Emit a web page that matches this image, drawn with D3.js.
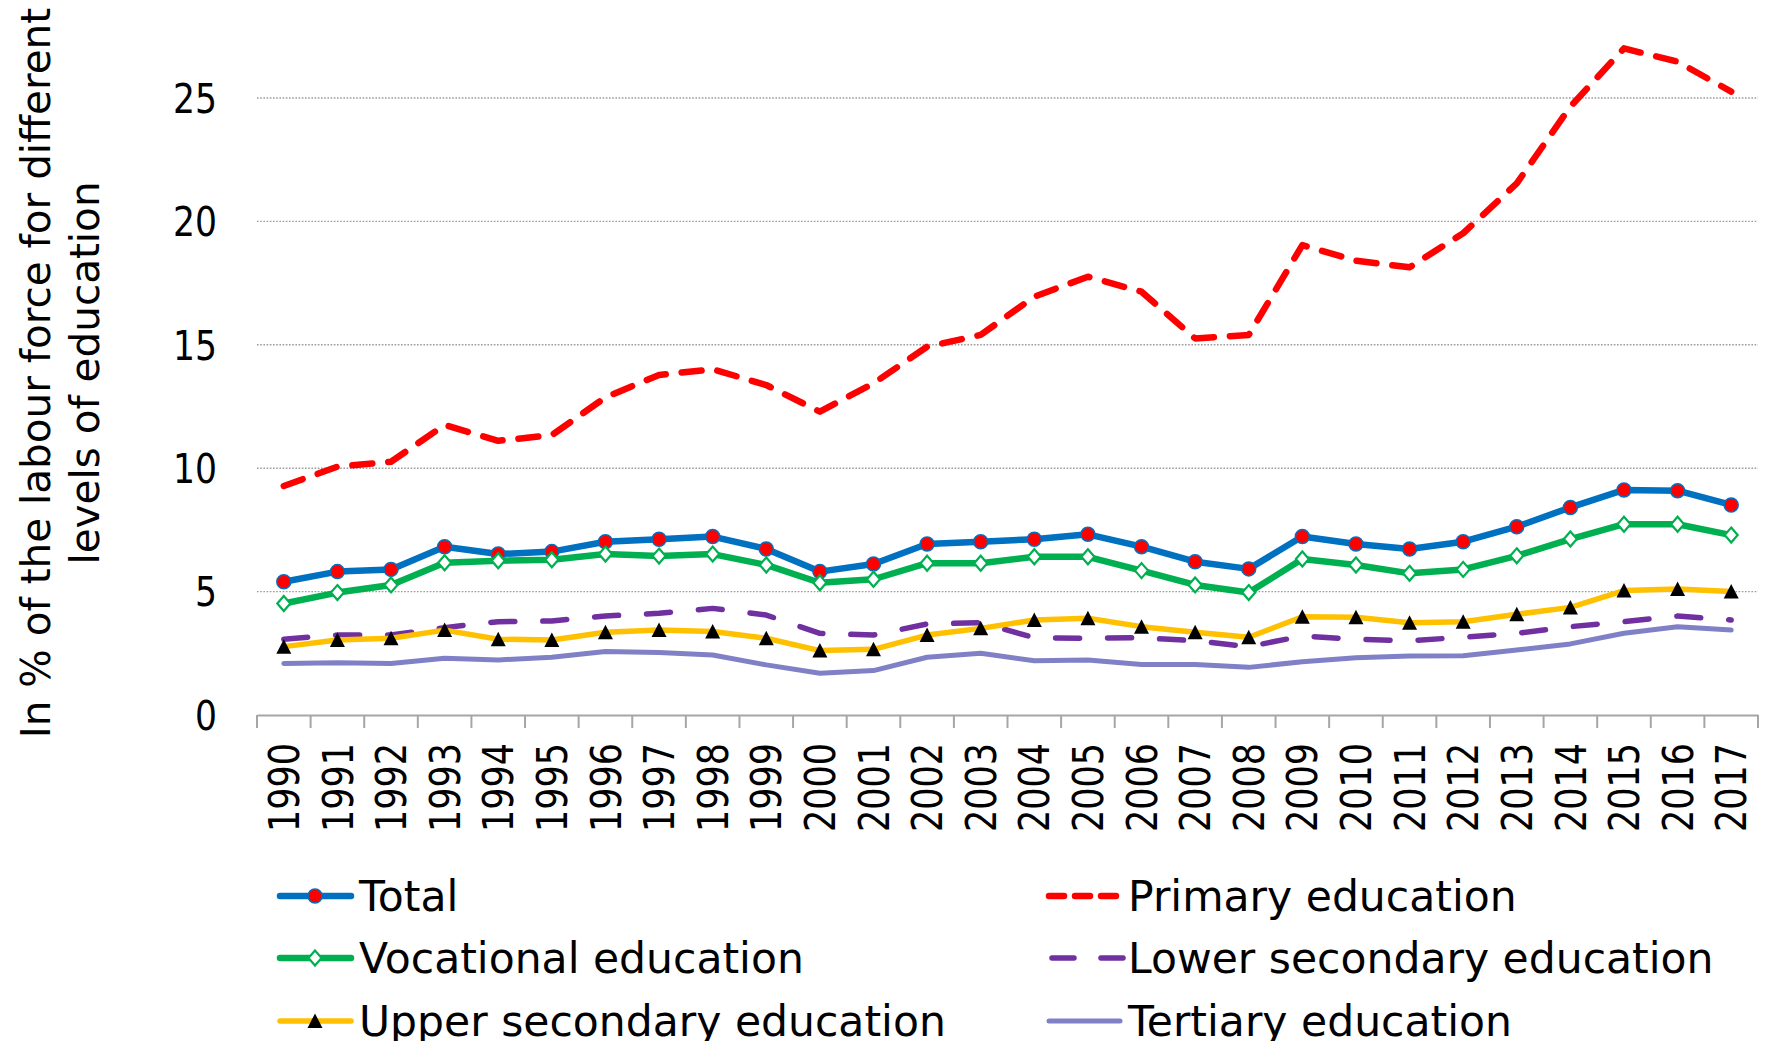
<!DOCTYPE html>
<html>
<head>
<meta charset="utf-8">
<script src="https://cdn.jsdelivr.net/npm/d3@7"></script>
<style>
    html, body { margin: 0; padding: 0; background: #fff; }
    svg { display: block; font-family: "DejaVu Sans", sans-serif; }
</style>
</head>
<body>
<svg id="chart" width="1765" height="1041"></svg>
<script>
var years = ["1990", "1991", "1992", "1993", "1994", "1995", "1996", "1997", "1998", "1999",
    "2000", "2001", "2002", "2003", "2004", "2005", "2006", "2007", "2008", "2009",
    "2010", "2011", "2012", "2013", "2014", "2015", "2016", "2017"];

var total = [5.40, 5.81, 5.90, 6.82, 6.52, 6.62, 7.02, 7.12, 7.23, 6.73,
    5.81, 6.12, 6.93, 7.02, 7.12, 7.32, 6.82, 6.21, 5.92, 7.23,
    6.93, 6.73, 7.02, 7.63, 8.41, 9.12, 9.09, 8.51];
var primary = [9.28, 10.06, 10.26, 11.75, 11.11, 11.34, 12.87, 13.78, 14.01, 13.37,
    12.29, 13.44, 14.92, 15.40, 16.95, 17.76, 17.15, 15.26, 15.40, 19.04,
    18.41, 18.14, 19.52, 21.54, 24.65, 27.01, 26.47, 25.26];
var vocational = [4.52, 4.96, 5.27, 6.17, 6.25, 6.29, 6.52, 6.44, 6.52, 6.08,
    5.36, 5.50, 6.15, 6.15, 6.41, 6.41, 5.85, 5.27, 4.96, 6.32,
    6.08, 5.74, 5.90, 6.45, 7.13, 7.73, 7.73, 7.29];
var lowerSecondary = [3.07, 3.24, 3.24, 3.54, 3.78, 3.81, 4.01, 4.12, 4.32, 4.05,
    3.31, 3.24, 3.69, 3.74, 3.13, 3.11, 3.13, 3.01, 2.77, 3.20,
    3.07, 3.01, 3.15, 3.31, 3.58, 3.78, 4.01, 3.85];
var upperSecondary = [2.77, 3.04, 3.11, 3.44, 3.07, 3.04, 3.35, 3.44, 3.38, 3.11,
    2.61, 2.66, 3.24, 3.51, 3.85, 3.92, 3.58, 3.35, 3.15, 3.98,
    3.96, 3.74, 3.78, 4.08, 4.36, 5.04, 5.11, 5.00];
var tertiary = [2.09, 2.12, 2.09, 2.30, 2.23, 2.34, 2.57, 2.53, 2.43, 2.03,
    1.69, 1.80, 2.34, 2.50, 2.20, 2.23, 2.05, 2.05, 1.93, 2.16,
    2.32, 2.39, 2.40, 2.63, 2.88, 3.31, 3.58, 3.44];

var yTicks = [0, 5, 10, 15, 20, 25];

var seriesNames = ["Total", "Primary education", "Vocational education",
    "Lower secondary education", "Upper secondary education", "Tertiary education"];

// drawing order follows the legend order, later series on top
var series = [
    {name: seriesNames[0], values: total, color: "#0070C0", width: 6.5, dash: null, marker: "circle"},
    {name: seriesNames[1], values: primary, color: "#FF0000", width: 6.5, dash: "20,16", marker: null},
    {name: seriesNames[2], values: vocational, color: "#00B050", width: 6.5, dash: null, marker: "diamond"},
    {name: seriesNames[3], values: lowerSecondary, color: "#7030A0", width: 5.5, dash: "24,28", marker: null},
    {name: seriesNames[4], values: upperSecondary, color: "#FFC000", width: 5.5, dash: null, marker: "triangle"},
    {name: seriesNames[5], values: tertiary, color: "#8080C6", width: 5, dash: null, marker: null}
];

var svg = d3.select("#chart");

var x = d3.scaleBand()
    .domain(years)
    .range([257, 1758]);

var y = d3.scaleLinear()
    .domain([0, 25])
    .range([715, 98]);

function cx(d, i) { return x(years[i]) + x.bandwidth() / 2; }

// gridlines
svg.append("g")
    .selectAll("line")
    .data(yTicks.filter(function(t) { return t > 0; }))
    .enter()
    .append("line")
    .attr("x1", x.range()[0])
    .attr("x2", x.range()[1])
    .attr("y1", function(d) { return y(d); })
    .attr("y2", function(d) { return y(d); })
    .attr("stroke", "#9a9a9a")
    .attr("stroke-width", 1.4)
    .attr("stroke-dasharray", "1.6,1.6");

// y tick labels (tall, narrow digits like the original font)
svg.append("g")
    .selectAll("text")
    .data(yTicks)
    .enter()
    .append("text")
    .attr("x", 217)
    .attr("y", function(d) { return y(d); })
    .attr("dy", "0.36em")
    .attr("text-anchor", "end")
    .attr("textLength", function(d) { return String(d).length * 22; })
    .attr("lengthAdjust", "spacingAndGlyphs")
    .style("font-size", "41px")
    .style("fill", "#000")
    .text(function(d) { return d; });

// x axis with ticks between categories
var xAxis = d3.axisBottom(x)
    .tickSize(0)
    .tickFormat("");
svg.append("g")
    .attr("transform", "translate(0," + y(0) + ")")
    .call(xAxis)
    .call(function(g) {
        g.select(".domain").attr("stroke", "#a6a6a6").attr("stroke-width", 2);
    });

var bounds = years.map(function(d) { return x(d); }).concat([x.range()[1]]);
svg.append("g")
    .selectAll("line")
    .data(bounds)
    .enter()
    .append("line")
    .attr("x1", function(d) { return d; })
    .attr("x2", function(d) { return d; })
    .attr("y1", y(0))
    .attr("y2", y(0) + 13)
    .attr("stroke", "#a6a6a6")
    .attr("stroke-width", 2);

// year labels, rotated
svg.append("g")
    .selectAll("text")
    .data(years)
    .enter()
    .append("text")
    .attr("transform", function(d) {
        return "translate(" + (x(d) + x.bandwidth() / 2) + "," + 743 + ") rotate(-90)";
    })
    .attr("dy", "0.36em")
    .attr("text-anchor", "end")
    .attr("textLength", 89)
    .attr("lengthAdjust", "spacingAndGlyphs")
    .style("font-size", "42px")
    .style("fill", "#000")
    .text(function(d) { return d; });

// y axis title
var yTitle = ["In % of the labour force for different", "levels of education"];
svg.append("g")
    .selectAll("text")
    .data(yTitle)
    .enter()
    .append("text")
    .attr("transform", function(d, i) {
        return "translate(" + (50 + i * 49) + ",373) rotate(-90)";
    })
    .attr("text-anchor", "middle")
    .style("font-size", "40.5px")
    .style("fill", "#000")
    .text(function(d) { return d; });

function markerPath(type) {
    if (type === "diamond") return "M0,-7.5L6.5,0L0,7.5L-6.5,0Z";
    if (type === "triangle") return "M0,-7.5L7.5,7L-7.5,7Z";
    return null;
}

function drawMarker(sel, s) {
    if (s.marker === "circle") {
        sel.append("circle")
            .attr("r", 7)
            .attr("fill", "#FF0000")
            .attr("stroke", s.color)
            .attr("stroke-width", 1.5);
    } else if (s.marker === "diamond") {
        sel.append("path")
            .attr("d", markerPath("diamond"))
            .attr("fill", "#fff")
            .attr("stroke", s.color)
            .attr("stroke-width", 2.2);
    } else if (s.marker === "triangle") {
        sel.append("path")
            .attr("d", markerPath("triangle"))
            .attr("fill", "#000");
    }
}

var line = d3.line()
    .x(function(d, i) { return cx(d, i); })
    .y(function(d) { return y(d); });

series.forEach(function(s) {
    var g = svg.append("g");
    g.append("path")
        .datum(s.values)
        .attr("d", line)
        .attr("fill", "none")
        .attr("stroke", s.color)
        .attr("stroke-width", s.width)
        .attr("stroke-linejoin", "round")
        .attr("stroke-linecap", "round")
        .attr("stroke-dasharray", s.dash);

    if (s.marker) {
        g.selectAll("g.mark")
            .data(s.values)
            .enter()
            .append("g")
            .attr("class", "mark")
            .attr("transform", function(d, i) {
                return "translate(" + cx(d, i) + "," + y(d) + ")";
            })
            .each(function() { drawMarker(d3.select(this), s); });
    }
});

// legend, two columns, row-major
var legendCols = [280, 1049];
var legendRows = [896, 958, 1021];
var legend = svg.append("g")
    .selectAll("g")
    .data(series)
    .enter()
    .append("g")
    .attr("transform", function(d, i) {
        return "translate(" + legendCols[i % 2] + "," + legendRows[Math.floor(i / 2)] + ")";
    });

legend.append("line")
    .attr("x1", 0)
    .attr("x2", 71)
    .attr("stroke", function(d) { return d.color; })
    .attr("stroke-width", function(d) { return d.width; })
    .attr("stroke-linecap", "round")
    .attr("stroke-dasharray", function(d) {
        if (d.name === seriesNames[1]) return "15,11";
        if (d.name === seriesNames[3]) return "22,27";
        return null;
    })
    .attr("transform", function(d) {
        return d.name === seriesNames[3] ? "translate(3,0)" : null;
    });

legend.each(function(d) {
    if (d.marker) {
        var m = d3.select(this).append("g").attr("transform", "translate(35,0)");
        drawMarker(m, d);
    }
});

legend.append("text")
    .attr("x", 79)
    .attr("dy", "0.36em")
    .style("font-size", "42.5px")
    .style("fill", "#000")
    .text(function(d) { return d.name; });
</script>
</body>
</html>
